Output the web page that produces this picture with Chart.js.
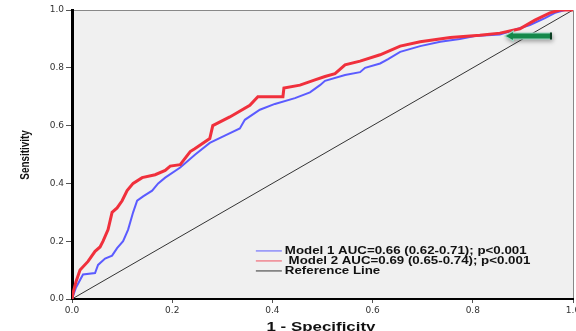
<!DOCTYPE html>
<html>
<head>
<meta charset="utf-8">
<script src="https://cdn.jsdelivr.net/npm/chart.js@4/dist/chart.umd.min.js"></script>
<style>
  html, body { margin: 0; padding: 0; background: #fff; }
  #wrap { width: 576px; height: 331px; }
</style>
</head>
<body>
<div id="wrap"><canvas id="roc"></canvas></div>
<script>
const xTicks = [0, 0.2, 0.4, 0.6, 0.8, 1.0];
const yTicks = [0, 0.2, 0.4, 0.6, 0.8, 1.0];

const xTitle = '1 - Specificity';
const yTitle = 'Sensitivity';

const legendLabels = [
    'Model 1 AUC=0.66 (0.62-0.71); p<0.001',
    ' Model 2 AUC=0.69 (0.65-0.74); p<0.001',
    'Reference Line'
];

// 1 - specificity / sensitivity
const model1X = [0, 0.008, 0.022, 0.046, 0.052, 0.066, 0.080, 0.090, 0.102, 0.112, 0.122, 0.130, 0.142, 0.160, 0.172, 0.186, 0.216, 0.246, 0.275, 0.305, 0.335, 0.345, 0.375, 0.405, 0.445, 0.475, 0.495, 0.505, 0.545, 0.575, 0.585, 0.615, 0.631, 0.655, 0.695, 0.735, 0.774, 0.804, 0.854, 0.914, 0.944, 0.964, 0.984, 1.0];
const model1Y = [0, 0.04, 0.085, 0.09, 0.118, 0.14, 0.15, 0.176, 0.20, 0.24, 0.30, 0.34, 0.355, 0.375, 0.40, 0.42, 0.455, 0.50, 0.54, 0.565, 0.59, 0.62, 0.655, 0.675, 0.695, 0.715, 0.74, 0.755, 0.775, 0.785, 0.80, 0.815, 0.83, 0.855, 0.875, 0.89, 0.90, 0.91, 0.915, 0.948, 0.972, 0.99, 1.0, 1.0];

const model2X = [0, 0.002, 0.008, 0.016, 0.032, 0.046, 0.056, 0.062, 0.072, 0.080, 0.090, 0.100, 0.110, 0.122, 0.140, 0.166, 0.186, 0.196, 0.216, 0.236, 0.245, 0.275, 0.281, 0.315, 0.355, 0.371, 0.421, 0.423, 0.455, 0.485, 0.505, 0.525, 0.545, 0.575, 0.615, 0.655, 0.695, 0.755, 0.814, 0.854, 0.894, 0.924, 0.954, 0.974, 1.0];
const model2Y = [0, 0.02, 0.06, 0.10, 0.13, 0.165, 0.18, 0.20, 0.24, 0.30, 0.315, 0.34, 0.375, 0.40, 0.42, 0.43, 0.445, 0.46, 0.465, 0.51, 0.52, 0.555, 0.60, 0.63, 0.67, 0.70, 0.70, 0.73, 0.74, 0.758, 0.77, 0.78, 0.81, 0.823, 0.845, 0.875, 0.89, 0.905, 0.913, 0.92, 0.935, 0.965, 0.99, 1.0, 1.0];

const refX = [0, 1];
const refY = [0, 1];

// arrow annotation (from tail to tip, in data units)
const arrowFrom = [0.958, 0.91];
const arrowTo = [0.862, 0.91];

const toPoints = (xs, ys) => xs.map((x, i) => ({ x: x, y: ys[i] }));

const blue = '#5b5bff';
const red = '#f0303c';
const refColor = '#333333';

const plotBg = {
    id: 'plotBg',
    beforeDraw(chart) {
        const { ctx, chartArea: a } = chart;
        ctx.save();
        ctx.fillStyle = '#f0f0f0';
        ctx.fillRect(a.left, a.top, a.right - a.left, a.bottom - a.top);
        ctx.strokeStyle = '#888888';
        ctx.lineWidth = 1;
        ctx.beginPath();
        ctx.moveTo(a.left, a.top + 0.5);
        ctx.lineTo(a.right + 0.5, a.top + 0.5);
        ctx.lineTo(a.right + 0.5, a.bottom);
        ctx.stroke();
        ctx.restore();
    }
};

const extras = {
    id: 'extras',
    afterDraw(chart) {
        const { ctx, scales } = chart;
        const x = scales.x, y = scales.y;

        // axis titles (the original is stretched sideways)
        ctx.save();
        ctx.fillStyle = '#111';
        ctx.font = 'bold 13px "Liberation Sans", Arial, sans-serif';
        ctx.textAlign = 'center';
        ctx.textBaseline = 'alphabetic';
        ctx.translate(321, 331);
        ctx.scale(1.3, 1);
        ctx.fillText(xTitle, 0, 0);
        ctx.restore();

        ctx.save();
        ctx.fillStyle = '#111';
        ctx.font = 'bold 13px "Liberation Sans", Arial, sans-serif';
        ctx.textAlign = 'center';
        ctx.textBaseline = 'middle';
        ctx.translate(25, 155);
        ctx.rotate(-Math.PI / 2);
        ctx.scale(0.76, 1.05);
        ctx.fillText(yTitle, 0, 0);
        ctx.restore();

        // legend inside the plot
        const colors = [blue, '#f05060', refColor];
        const lx = x.getPixelForValue(0.367);
        let ly = y.getPixelForValue(0.168);
        ctx.save();
        ctx.font = 'bold 10px "Liberation Sans", Arial, sans-serif';
        ctx.textBaseline = 'middle';
        legendLabels.forEach((label, i) => {
            ctx.strokeStyle = colors[i];
            ctx.lineWidth = 1;
            ctx.beginPath();
            ctx.moveTo(lx, ly + 0.5);
            ctx.lineTo(lx + 26, ly + 0.5);
            ctx.stroke();
            ctx.save();
            ctx.translate(lx + 29, ly + 1);
            ctx.scale(1.33, 1);
            ctx.fillStyle = '#111';
            ctx.fillText(label, 0, 0);
            ctx.restore();
            ly += 10;
        });

        // green arrow
        const tx = x.getPixelForValue(arrowFrom[0]);
        const hx = x.getPixelForValue(arrowTo[0]);
        const ay = y.getPixelForValue(arrowTo[1]);
        ctx.shadowColor = 'rgba(0,0,0,0.35)';
        ctx.shadowBlur = 4;
        ctx.shadowOffsetX = 1;
        ctx.shadowOffsetY = 2;
        ctx.fillStyle = '#9fd9c6';
        ctx.beginPath();
        ctx.moveTo(hx, ay);
        ctx.lineTo(hx + 10, ay - 6);
        ctx.lineTo(hx + 10, ay - 3.5);
        ctx.lineTo(tx, ay - 3.5);
        ctx.lineTo(tx, ay + 3.5);
        ctx.lineTo(hx + 10, ay + 3.5);
        ctx.lineTo(hx + 10, ay + 6);
        ctx.closePath();
        ctx.fill();
        ctx.shadowColor = 'transparent';
        ctx.fillStyle = '#14884a';
        ctx.fillRect(hx + 8, ay - 2.5, tx - hx - 8, 5);
        ctx.beginPath();
        ctx.moveTo(hx + 2, ay);
        ctx.lineTo(hx + 9, ay - 4);
        ctx.lineTo(hx + 9, ay + 4);
        ctx.closePath();
        ctx.fill();
        ctx.fillStyle = '#0b3d22';
        ctx.fillRect(tx - 2, ay - 3.5, 2, 7);
        ctx.restore();
    }
};

new Chart(document.getElementById('roc'), {
    type: 'line',
    data: {
        datasets: [
            {
                label: 'Model 2',
                data: toPoints(model2X, model2Y),
                borderColor: red,
                borderWidth: 3,
                pointRadius: 0,
                tension: 0,
                order: 0
            },
            {
                label: 'Model 1',
                data: toPoints(model1X, model1Y),
                borderColor: blue,
                borderWidth: 2,
                pointRadius: 0,
                tension: 0,
                order: 1
            },
            {
                label: 'Reference Line',
                data: toPoints(refX, refY),
                borderColor: refColor,
                borderWidth: 1,
                pointRadius: 0,
                order: 2
            }
        ]
    },
    options: {
        responsive: true,
        maintainAspectRatio: false,
        animation: false,
        layout: { padding: { top: 10, right: 3, left: 0, bottom: 0 } },
        plugins: {
            legend: { display: false },
            tooltip: { enabled: false }
        },
        scales: {
            x: {
                type: 'linear',
                min: 0,
                max: 1,
                afterBuildTicks: (s) => { s.ticks = xTicks.map(v => ({ value: v })); },
                afterFit: (s) => { s.height = 32; s.paddingRight = 0; s.paddingLeft = 0; },
                border: { display: true, color: '#000', width: 2 },
                grid: { drawOnChartArea: false, color: '#555', tickLength: 4 },
                ticks: {
                    color: '#333',
                    padding: 2,
                    maxRotation: 0,
                    font: { family: '"DejaVu Sans", Verdana, sans-serif', size: 9 },
                    callback: (v) => v.toFixed(1)
                }
            },
            y: {
                type: 'linear',
                min: 0,
                max: 1,
                afterBuildTicks: (s) => { s.ticks = yTicks.map(v => ({ value: v })); },
                afterFit: (s) => { s.width = 72; s.paddingTop = 0; s.paddingBottom = 0; },
                border: { display: true, color: '#000', width: 3 },
                grid: { drawOnChartArea: false, color: '#555', tickLength: 6 },
                ticks: {
                    color: '#333',
                    padding: 2,
                    font: { family: '"DejaVu Sans", Verdana, sans-serif', size: 9 },
                    callback: (v) => v.toFixed(1)
                }
            }
        }
    },
    plugins: [plotBg, extras]
});
</script>
</body>
</html>
